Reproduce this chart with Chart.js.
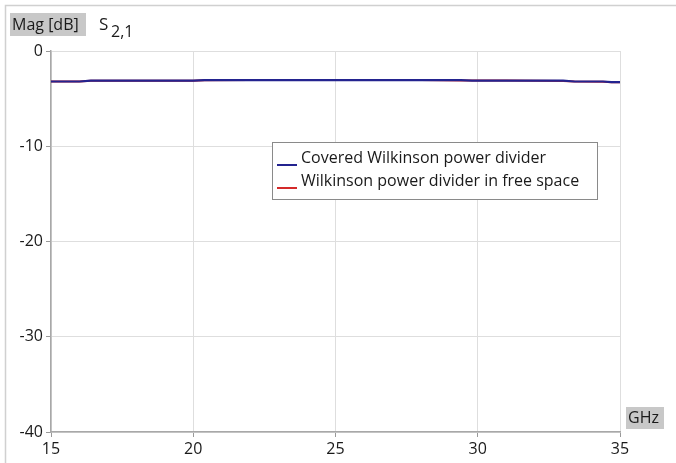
<!DOCTYPE html>
<html>
<head>
<meta charset="utf-8">
<script src="https://cdn.jsdelivr.net/npm/chart.js@4/dist/chart.umd.min.js"></script>
<style>
  html, body { margin: 0; padding: 0; background: #fff; }
  #wrap { width: 676px; height: 463px; position: relative; }
</style>
</head>
<body>
<div id="wrap"><canvas id="s21Chart"></canvas></div>
<script>
// frequency points (GHz) and S2,1 magnitude (dB)
const freqGHz = [15, 16, 16.4, 18, 20, 20.4, 22, 24, 26, 28, 29.4, 29.8, 31, 33, 33.4, 34.4, 34.7, 35];
const coveredDb = [-3.2, -3.2, -3.12, -3.12, -3.12, -3.06, -3.05, -3.05, -3.05, -3.05, -3.05, -3.1, -3.1, -3.12, -3.2, -3.2, -3.27, -3.27];
const freeSpaceDb = [-3.2, -3.2, -3.12, -3.12, -3.12, -3.06, -3.05, -3.05, -3.05, -3.05, -3.1, -3.1, -3.1, -3.14, -3.2, -3.22, -3.28, -3.28];
const seriesNames = ['Covered Wilkinson power divider', 'Wilkinson power divider in free space'];
const seriesColors = ['#23238f', '#d42a2a'];

const FONT = "'Open Sans', 'DejaVu Sans', sans-serif";

const toPoints = (ys) => freqGHz.map((x, i) => ({ x, y: ys[i] }));

const decorations = {
    id: 'decorations',
    beforeDraw(chart) {
        const c = chart.ctx;
        c.save();
        // outer frame
        c.strokeStyle = '#d0d0d0';
        c.lineWidth = 1.5;
        c.beginPath();
        c.moveTo(5.5, 463);
        c.lineTo(5.5, 5.5);
        c.lineTo(676, 5.5);
        c.stroke();
        c.restore();
    },
    afterDraw(chart) {
        const c = chart.ctx;
        c.save();
        // axis caption boxes
        c.fillStyle = '#c8c8c8';
        c.fillRect(10, 13, 76, 23);
        c.fillRect(626, 407, 38, 22);
        c.fillStyle = '#1a1a1a';
        c.font = '16px ' + FONT;
        c.textBaseline = 'middle';
        c.textAlign = 'left';
        c.fillText('Mag [dB]', 12, 25);
        c.fillText('GHz', 628, 418);
        c.font = '17px ' + FONT;
        c.fillText('S', 99, 25);
        c.font = '16px ' + FONT;
        c.fillText('2,1', 111, 32);

        // legend box
        const lx = 272, ly = 142, lw = 325, lh = 57;
        c.fillStyle = '#fff';
        c.fillRect(lx, ly, lw, lh);
        c.strokeStyle = '#8a8a8a';
        c.lineWidth = 1;
        c.strokeRect(lx + 0.5, ly + 0.5, lw, lh);
        c.font = '16px ' + FONT;
        seriesNames.forEach((name, i) => {
            const yy = ly + 16 + i * 23;
            c.strokeStyle = seriesColors[i];
            c.lineWidth = 2;
            c.beginPath();
            c.moveTo(lx + 5, yy + 7);
            c.lineTo(lx + 25, yy + 7);
            c.stroke();
            c.fillStyle = '#1a1a1a';
            c.fillText(name, lx + 29, yy);
        });
        c.restore();
    }
};

new Chart(document.getElementById('s21Chart'), {
    type: 'line',
    data: {
        datasets: [
            {
                label: seriesNames[1],
                data: toPoints(freeSpaceDb),
                borderColor: seriesColors[1],
                borderWidth: 2,
                pointRadius: 0,
                tension: 0,
                order: 2
            },
            {
                label: seriesNames[0],
                data: toPoints(coveredDb),
                borderColor: seriesColors[0],
                borderWidth: 2.2,
                pointRadius: 0,
                tension: 0,
                order: 1
            }
        ]
    },
    options: {
        responsive: true,
        maintainAspectRatio: false,
        animation: false,
        layout: { padding: { top: 51, right: 56, left: 0, bottom: 0 } },
        plugins: { legend: { display: false }, tooltip: { enabled: false } },
        scales: {
            x: {
                type: 'linear',
                min: 15, max: 35,
                afterFit: (s) => { s.height = 31; },
                grid: { color: '#dedede', tickColor: '#999', tickLength: 5 },
                border: { color: '#a8a8a8', width: 1.5 },
                ticks: { stepSize: 5, padding: 3, color: '#1a1a1a', font: { family: FONT, size: 16 } }
            },
            y: {
                min: -40, max: 0,
                afterFit: (s) => { s.width = 51; },
                grid: { color: '#dedede', tickColor: '#999', tickLength: 5 },
                border: { color: '#a8a8a8', width: 1.5 },
                ticks: { stepSize: 10, padding: 3, color: '#1a1a1a', font: { family: FONT, size: 16 } }
            }
        }
    },
    plugins: [decorations]
});
</script>
</body>
</html>
